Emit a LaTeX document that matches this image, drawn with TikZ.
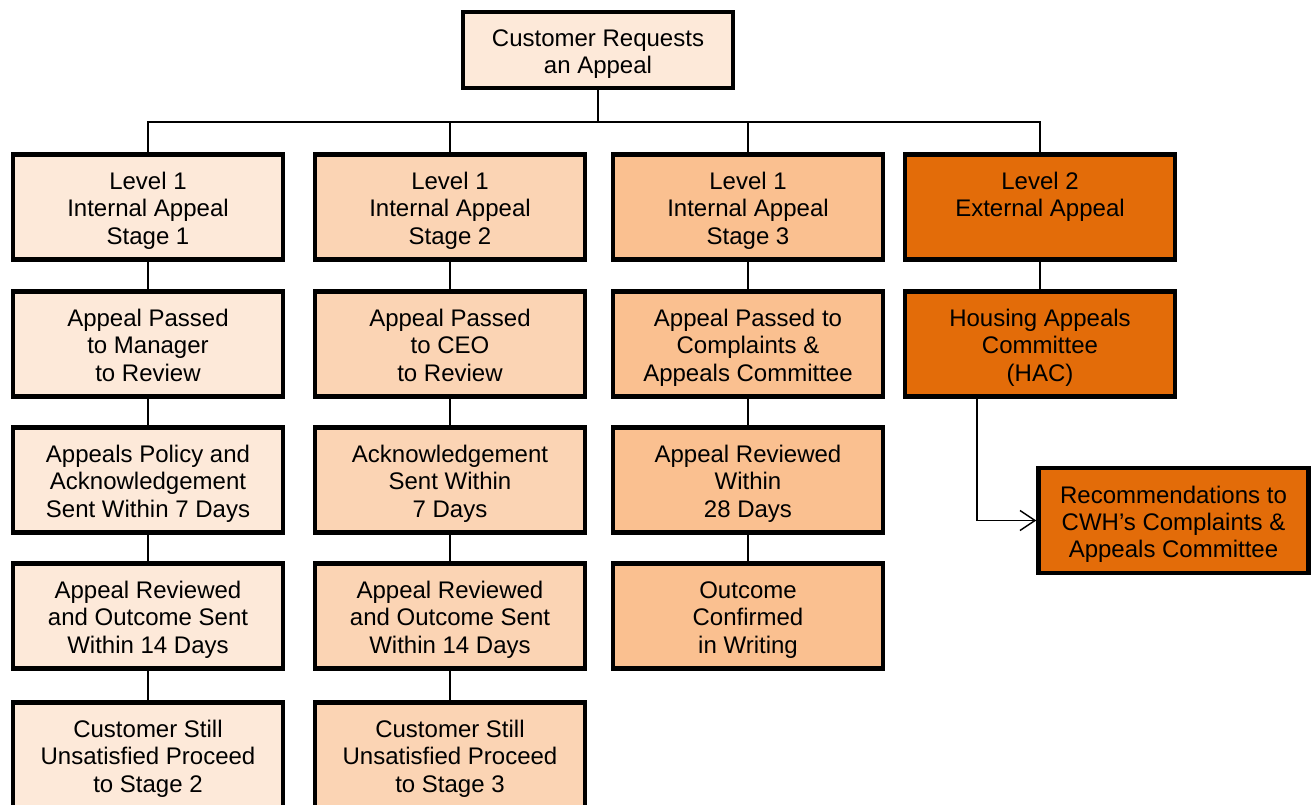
\documentclass[tikz,border=0pt]{standalone}
\usepackage{fontspec}
\setmainfont{Liberation Sans}
\usetikzlibrary{arrows.meta}
\definecolor{oA}{HTML}{FDE9D9}
\definecolor{oB}{HTML}{FBD4B4}
\definecolor{oC}{HTML}{FAC090}
\definecolor{oD}{HTML}{E36C09}
\newcommand\firstln{\rule{0pt}{25.6pt}}
\newcommand\lastln{\rule[-6pt]{0pt}{0pt}}
\begin{document}
\begin{tikzpicture}[x=1pt,y=-1pt,
  box/.style={draw=black,line width=4.5pt,rectangle,minimum width=270pt,minimum height=105pt,
    align=center,inner sep=0pt,text=black,font=\fontsize{24}{27.2}\selectfont},
  conn/.style={draw=black,line width=1.4pt},
  arr/.style={conn,-{Straight Barb[length=15pt,width=20pt,line width=1.4pt]}}]
\useasboundingbox (0,0) rectangle (1312,805);
\fill[white] (0,0) rectangle (1312,805);
% top
\node[box,fill=oA,minimum height=76pt] (top) at (598,50) {\firstln Customer Requests\\an Appeal\lastln};
% column 1
\node[box,fill=oA] (a1) at (148,207) {\firstln Level 1\\Internal Appeal\\Stage 1\lastln};
\node[box,fill=oA] (a2) at (148,344) {\firstln Appeal Passed\\to Manager\\to Review\lastln};
\node[box,fill=oA] (a3) at (148,480) {\firstln Appeals Policy and\\Acknowledgement\\Sent Within 7 Days\lastln};
\node[box,fill=oA] (a4) at (148,616) {\firstln Appeal Reviewed\\and Outcome Sent\\Within 14 Days\lastln};
\node[box,fill=oA] (a5) at (148,755) {\firstln Customer Still\\Unsatisfied Proceed\\to Stage 2\lastln};
% column 2
\node[box,fill=oB] (b1) at (450,207) {\firstln Level 1\\Internal Appeal\\Stage 2\lastln};
\node[box,fill=oB] (b2) at (450,344) {\firstln Appeal Passed\\to CEO\\to Review\lastln};
\node[box,fill=oB] (b3) at (450,480) {\firstln Acknowledgement\\Sent Within\\7 Days\lastln};
\node[box,fill=oB] (b4) at (450,616) {\firstln Appeal Reviewed\\and Outcome Sent\\Within 14 Days\lastln};
\node[box,fill=oB] (b5) at (450,755) {\firstln Customer Still\\Unsatisfied Proceed\\to Stage 3\lastln};
% column 3
\node[box,fill=oC] (c1) at (748,207) {\firstln Level 1\\Internal Appeal\\Stage 3\lastln};
\node[box,fill=oC] (c2) at (748,344) {\firstln Appeal Passed to\\Complaints \&\\Appeals Committee\lastln};
\node[box,fill=oC] (c3) at (748,480) {\firstln Appeal Reviewed\\Within\\28 Days\lastln};
\node[box,fill=oC] (c4) at (748,616) {\firstln Outcome\\Confirmed\\in Writing\lastln};
% column 4
\node[box,fill=oD] (d1) at (1040,207) {\firstln Level 2\\External Appeal\\\mbox{}\lastln};
\node[box,fill=oD] (d2) at (1040,344) {\firstln Housing Appeals\\Committee\\(HAC)\lastln};
\node[box,fill=oD] (rec) at (1173.5,520.5) {\firstln Recommendations to\\CWH’s Complaints \&\\Appeals Committee\lastln};
% connectors
\coordinate (bus) at (598,122);
\draw[conn] (top.south) -- (bus);
\draw[conn] (a1.north) -- (a1.north |- bus) -- (d1.north |- bus) -- (d1.north);
\draw[conn] (b1.north) -- (b1.north |- bus);
\draw[conn] (c1.north) -- (c1.north |- bus);
\draw[conn] (a1) -- (a2); \draw[conn] (a2) -- (a3); \draw[conn] (a3) -- (a4); \draw[conn] (a4) -- (a5);
\draw[conn] (b1) -- (b2); \draw[conn] (b2) -- (b3); \draw[conn] (b3) -- (b4); \draw[conn] (b4) -- (b5);
\draw[conn] (c1) -- (c2); \draw[conn] (c2) -- (c3); \draw[conn] (c3) -- (c4);
\draw[conn] (d1) -- (d2);
\draw[arr] ([xshift=-63pt]d2.south) |- (rec.west);
\end{tikzpicture}
\end{document}
